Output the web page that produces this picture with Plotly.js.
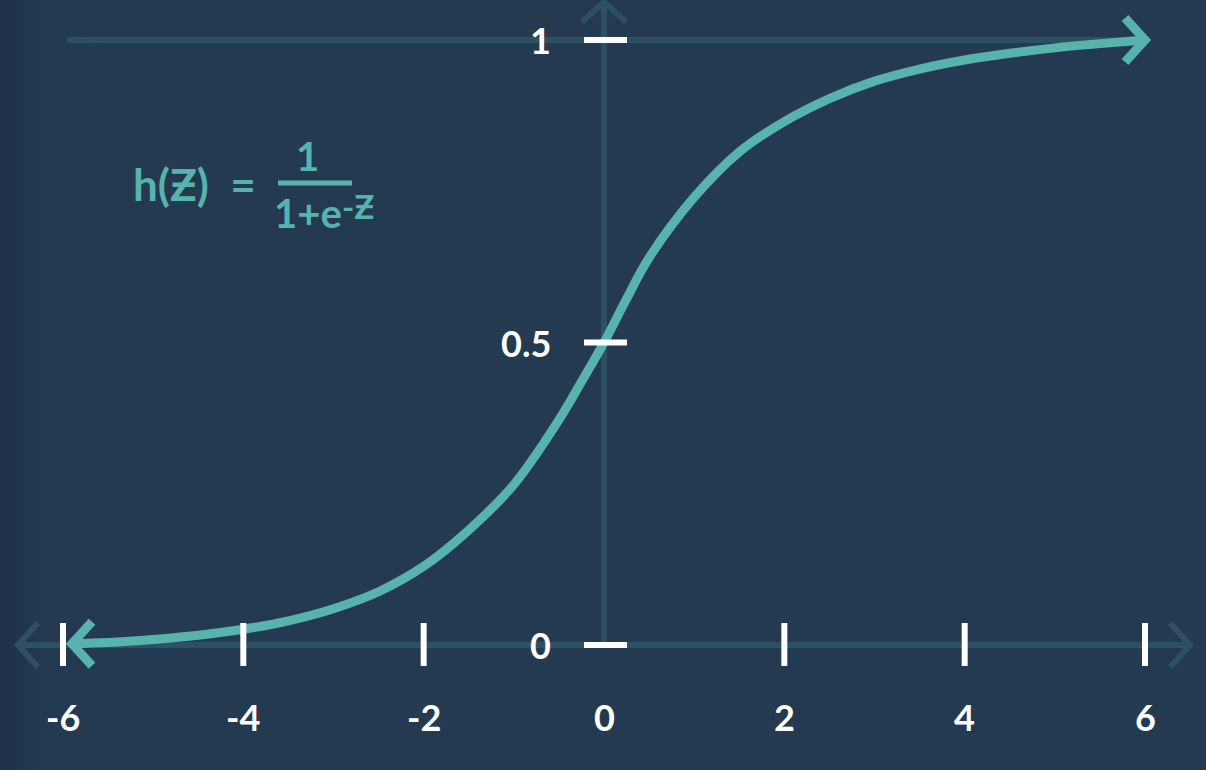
<!DOCTYPE html>
<html>
<head>
<meta charset="utf-8">
<script src="https://cdn.plot.ly/plotly-3.0.1.min.js"></script>
<style>
  html, body { margin: 0; padding: 0; }
  body { width: 1206px; height: 770px; overflow: hidden;
         background: linear-gradient(to right, #1e3248 0px, #223950 40px, #233a51 110px, #233a51 100%); }
  #chart { width: 1206px; height: 770px; }
</style>
</head>
<body>
<div id="chart"></div>
<script>
// ---- data ----
const curveX = [-5.9, -5.5, -5.0, -4.5, -4.0, -3.5, -3.0, -2.5, -2.0, -1.5, -1.0, -0.5, -0.25, 0.0, 0.25, 0.5, 1.0, 1.5, 2.0, 2.5, 3.0, 3.5, 4.0, 4.5, 5.0, 5.5, 6.0];
const curveY = [0.002, 0.004, 0.009, 0.016, 0.026, 0.040, 0.060, 0.088, 0.130, 0.190, 0.265, 0.372, 0.435, 0.500, 0.572, 0.640, 0.740, 0.815, 0.865, 0.903, 0.932, 0.952, 0.967, 0.978, 0.987, 0.994, 1.000];
const xTickVals = [-6, -4, -2, 0, 2, 4, 6];
const xTickText = ['-6', '-4', '-2', '0', '2', '4', '6'];
const yTickVals = [0, 0.5, 1];
const yTickText = ['0', '0.5', '1'];

// ---- styles ----
const TEAL = '#58b2ae';
const FAINT = '#2d5063';
const WHITE = '#ffffff';
const FONT = 'Lato, "Open Sans", sans-serif';

const xMax = xTickVals[xTickVals.length - 1];
const yMin = yTickVals[0], yMax = yTickVals[yTickVals.length - 1];
const xAxisEnd = 6.5;      // axis arrows a bit beyond the last tick
const yAxisEnd = 1.063;

// chevron (pixel offsets) helper
function chevron(ax, ay, dir, color, width) {
  const d = 20, h = 22;
  let path;
  if (dir === 'right') path = `M ${-d},${h} L 0,0 L ${-d},${-h}`;
  else if (dir === 'left') path = `M ${d},${h} L 0,0 L ${d},${-h}`;
  else path = `M ${-h},${-d} L 0,0 L ${h},${-d}`; // up
  return {type: 'path', layer: 'above', xref: 'x', yref: 'y', xsizemode: 'pixel', ysizemode: 'pixel',
          xanchor: ax, yanchor: ay, path: path, line: {color: color, width: width}};
}

const shapes = [];
// faint axes
shapes.push({type: 'line', layer: 'below', xref: 'x', yref: 'y', x0: -xAxisEnd, x1: xAxisEnd, y0: 0, y1: 0, line: {color: FAINT, width: 6}});
shapes.push({type: 'line', layer: 'below', xref: 'x', yref: 'y', x0: 0, x1: 0, y0: yMin, y1: yAxisEnd, line: {color: FAINT, width: 6}});
// faint guide at y = 1
shapes.push({type: 'line', layer: 'below', xref: 'x', yref: 'y', x0: -5.95, x1: xMax, y0: yMax, y1: yMax, line: {color: FAINT, width: 6}});
// faint axis arrowheads
[chevron(xAxisEnd, 0, 'right', FAINT, 6), chevron(-xAxisEnd, 0, 'left', FAINT, 6), chevron(0, yAxisEnd, 'up', FAINT, 6)]
  .forEach(s => { s.layer = 'below'; shapes.push(s); });
// white x ticks (not at 0)
xTickVals.filter(v => v !== 0).forEach(v => shapes.push({
  type: 'line', layer: 'above', xref: 'x', yref: 'y', ysizemode: 'pixel', yanchor: 0,
  x0: v, x1: v, y0: -21, y1: 22, line: {color: WHITE, width: 6}
}));
// white y ticks at x = 0
yTickVals.forEach(v => shapes.push({
  type: 'line', layer: 'above', xref: 'x', yref: 'y', xsizemode: 'pixel', xanchor: 0,
  x0: -20, x1: 23, y0: v, y1: v, line: {color: WHITE, width: 6}
}));
// curve arrowheads
const n = curveX.length;
shapes.push(chevron(curveX[n - 1], curveY[n - 1], 'right', TEAL, 9));
shapes.push(chevron(curveX[0], curveY[0], 'left', TEAL, 9));
// fraction bar of the formula
shapes.push({type: 'line', layer: 'above', xref: 'paper', yref: 'paper',
  x0: 278 / 1206, x1: 352 / 1206, y0: 1 - 183 / 770, y1: 1 - 183 / 770, line: {color: TEAL, width: 5}});

const annotations = [];
const labelFont = {family: FONT, size: 36, color: WHITE, weight: 'bold'};
// x tick labels
xTickVals.forEach((v, i) => annotations.push({
  x: v, y: 0, xref: 'x', yref: 'y', text: xTickText[i], showarrow: false,
  yshift: -72, xanchor: 'center', yanchor: 'middle', font: labelFont
}));
// y tick labels
yTickVals.forEach((v, i) => annotations.push({
  x: 0, y: v, xref: 'x', yref: 'y', text: yTickText[i], showarrow: false,
  xshift: -51, xanchor: 'right', yanchor: 'middle', font: labelFont
}));
// formula  h(Ƶ) = 1 / (1+e^-Ƶ)
const fFont = {family: FONT, size: 40, color: TEAL, weight: 'bold'};
annotations.push({xref: 'paper', yref: 'paper', x: 131 / 1206, y: 1 - 184 / 770, text: 'h(Ƶ)\u00a0\u00a0=',
  showarrow: false, xanchor: 'left', yanchor: 'middle', font: Object.assign({}, fFont, {size: 44})});
annotations.push({xref: 'paper', yref: 'paper', x: 307 / 1206, y: 1 - 156 / 770, text: '1',
  showarrow: false, xanchor: 'center', yanchor: 'middle', font: fFont});
annotations.push({xref: 'paper', yref: 'paper', x: 272 / 1206, y: 1 - 213 / 770, text: '1+e',
  showarrow: false, xanchor: 'left', yanchor: 'middle', font: fFont});
annotations.push({xref: 'paper', yref: 'paper', x: 340 / 1206, y: 1 - 206 / 770, text: '-Ƶ',
  showarrow: false, xanchor: 'left', yanchor: 'middle', font: Object.assign({}, fFont, {size: 33})});

const traces = [{
  type: 'scatter', mode: 'lines', x: curveX, y: curveY,
  line: {color: TEAL, width: 9, shape: 'spline', smoothing: 1},
  hoverinfo: 'skip'
}];

// plot area = full page; ranges chosen so x=-6..6 spans px 63..1145 and y=0..1 spans py 645..40
const pxPerX = 90.17, x0px = 604, pxPerY = 605, y0py = 645;
const layout = {
  width: 1206, height: 770, autosize: false,
  margin: {l: 0, r: 0, t: 0, b: 0, pad: 0},
  paper_bgcolor: 'rgba(0,0,0,0)', plot_bgcolor: 'rgba(0,0,0,0)',
  showlegend: false,
  xaxis: {range: [(0 - x0px) / pxPerX, (1206 - x0px) / pxPerX], showgrid: false, zeroline: false,
          showticklabels: false, showline: false, ticks: '', fixedrange: true},
  yaxis: {range: [(y0py - 770) / pxPerY, y0py / pxPerY], showgrid: false, zeroline: false,
          showticklabels: false, showline: false, ticks: '', fixedrange: true},
  shapes: shapes,
  annotations: annotations
};

Plotly.newPlot('chart', traces, layout, {staticPlot: true, displayModeBar: false});
</script>
</body>
</html>
